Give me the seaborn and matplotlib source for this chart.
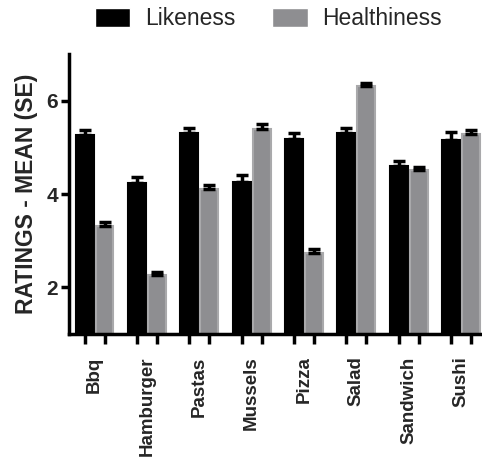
import matplotlib
matplotlib.use("Agg")
import pandas as pd
import matplotlib.pyplot as plt
import seaborn as sns

# Datos
alimentos = ["Bbq", "Hamburger", "Pastas", "Mussels", "Pizza", "Salad", "Sandwich", "Sushi"]
likeness = [5.26, 4.24, 5.31, 4.26, 5.19, 5.31, 4.60, 5.15]
likeness_se = [0.12, 0.12, 0.10, 0.14, 0.12, 0.10, 0.11, 0.18]
healthiness = [3.31, 2.26, 4.11, 5.40, 2.73, 6.32, 4.51, 5.28]
healthiness_se = [0.09, 0.08, 0.09, 0.10, 0.09, 0.06, 0.08, 0.10]
series = ["Likeness", "Healthiness"]

df = pd.DataFrame({
    "alimento": alimentos * 2,
    "medida": [series[0]] * len(alimentos) + [series[1]] * len(alimentos),
    "media": likeness + healthiness,
    "se": likeness_se + healthiness_se,
})

sns.set_style("ticks")
plt.rcParams["font.family"] = ["Liberation Sans", "DejaVu Sans"]

fig = plt.figure(figsize=(4.82, 4.59), dpi=100)
ax = fig.add_axes([0.143, 0.272, 0.857, 0.61])

sns.barplot(data=df, x="alimento", y="media", hue="medida", hue_order=series,
            palette=["black", "#8d8d92"], width=0.76, gap=0.1, errorbar=None,
            ax=ax)

# Bordes y barras de error (solo hacia arriba)
bordes = ["black", "#a9a9ab"]
errores = [likeness_se, healthiness_se]
centros = []
for cont, borde, err in zip(ax.containers, bordes, errores):
    xs, ys = [], []
    for barra in cont:
        barra.set_edgecolor(borde)
        barra.set_linewidth(1.5)
        xs.append(barra.get_x() + barra.get_width() / 2)
        ys.append(barra.get_height())
    centros.extend(xs)
    ax.errorbar(xs, ys, yerr=[[0] * len(err), err], fmt="none", ecolor="black",
                elinewidth=2.5, capsize=4.5, capthick=2.5, zorder=5)

# Leyenda arriba
handles, labels = ax.get_legend_handles_labels()
ax.legend(handles, labels, loc="center", bbox_to_anchor=(0.557, 0.959),
          bbox_transform=fig.transFigure, ncol=2, frameon=False, fontsize=16.5,
          handlelength=1.55, handleheight=0.9, handletextpad=0.65,
          columnspacing=1.6)

ax.set_ylim(1, 7)
ax.set_xlim(-0.49, 7.4)
ax.set_yticks([2, 4, 6])
ax.set_xlabel("")
ax.set_ylabel("RATINGS - MEAN (SE)", fontsize=16.5, fontweight="bold", labelpad=6)

ax.set_xticks(range(len(alimentos)))
ax.set_xticklabels(alimentos, rotation=90, fontsize=13.5, fontweight="bold")
ax.set_xticks(centros, minor=True)
ax.tick_params(axis="x", which="major", length=0, pad=16)
ax.tick_params(axis="x", which="minor", length=7, width=2.5, color="black")
ax.tick_params(axis="y", length=6, width=2.5, color="black", labelsize=15, pad=2)
for lab in ax.get_yticklabels():
    lab.set_fontweight("bold")

sns.despine(ax=ax)
for lado in ["left", "bottom"]:
    ax.spines[lado].set_linewidth(2.5)
    ax.spines[lado].set_color("black")

plt.savefig("out.png", dpi=100)
